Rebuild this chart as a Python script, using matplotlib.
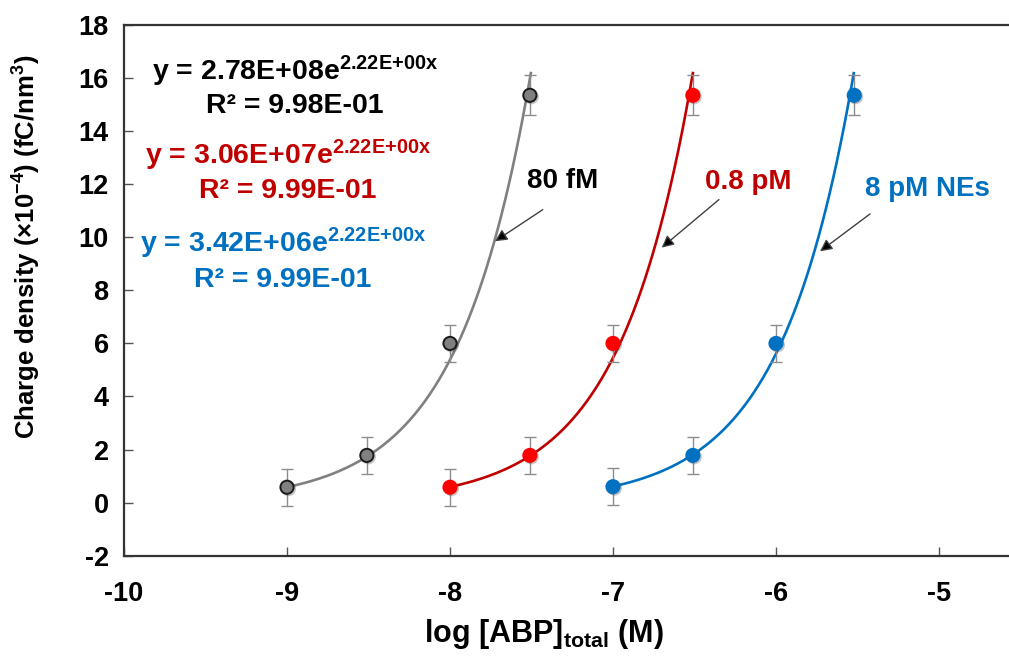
import numpy as np
import matplotlib
matplotlib.use("Agg")
import matplotlib.pyplot as plt
import matplotlib.patheffects as pe

plt.rcParams['font.family'] = ['Liberation Sans', 'DejaVu Sans']
plt.rcParams['font.weight'] = 'bold'
plt.rcParams['axes.unicode_minus'] = False
plt.rcParams['mathtext.fontset'] = 'custom'
plt.rcParams['mathtext.rm'] = 'Liberation Sans'
plt.rcParams['mathtext.bf'] = 'Liberation Sans:bold'
plt.rcParams['mathtext.it'] = 'Liberation Sans:italic'

# ---------------- data ----------------
series_names = ["80 fM", "0.8 pM", "8 pM NEs"]
x_gray = [-9.0, -8.51, -8.0, -7.51]
x_red = [-8.0, -7.51, -7.0, -6.51]
x_blue = [-7.0, -6.51, -6.0, -5.52]
y_gray = [0.58, 1.78, 6.0, 15.35]
y_red = [0.58, 1.78, 6.0, 15.35]
y_blue = [0.6, 1.78, 6.0, 15.35]
err_gray = [0.7, 0.71, 0.7, 0.75]
err_red = [0.7, 0.71, 0.7, 0.75]
err_blue = [0.7, 0.71, 0.7, 0.75]
fit_A = [2.78e8, 3.06e7, 3.42e6]
fit_b = [2.22, 2.22, 2.22]
fit_xmax = [-7.504, -6.51, -5.523]
eq_labels = [r"y = 2.78E+08e$^{\mathrm{2.22E{+}00x}}$",
             r"y = 3.06E+07e$^{\mathrm{2.22E{+}00x}}$",
             r"y = 3.42E+06e$^{\mathrm{2.22E{+}00x}}$"]
r2_labels = ["R² = 9.98E-01", "R² = 9.99E-01", "R² = 9.99E-01"]
xticks = [-10, -9, -8, -7, -6, -5]
yticks = [-2, 0, 2, 4, 6, 8, 10, 12, 14, 16, 18]

line_colors = ["#808080", "#C00000", "#0070C0"]
face_colors = ["#808080", "#FF0000", "#0070C0"]
edge_colors = ["#1a1a1a", "#FF0000", "#0070C0"]
text_colors = ["#000000", "#C00000", "#0070C0"]

fig = plt.figure(figsize=(10.09, 6.58), dpi=100)
ax = fig.add_axes([124/1009, 1-555.7/658, 900/1009, 530.7/658])

xs = [x_gray, x_red, x_blue]
ys = [y_gray, y_red, y_blue]
es = [err_gray, err_red, err_blue]

for i in range(3):
    x = np.array(xs[i]); y = np.array(ys[i])
    xx = np.linspace(x[0], fit_xmax[i], 200)
    ax.plot(xx, fit_A[i] * np.exp(fit_b[i] * xx), color=line_colors[i], lw=1.9, zorder=2)
    ax.errorbar(x, y, yerr=es[i], fmt='none', ecolor='#8c8c8c', elinewidth=1.0,
                capsize=4, capthick=1.0, zorder=3)
    ax.plot(x, y, 'o', ms=9.5, mfc=face_colors[i], mec=edge_colors[i], mew=1.4, zorder=4,
            path_effects=[pe.SimpleLineShadow(offset=(1, -1), alpha=0.35, shadow_color='#555555'),
                          pe.Normal()])

# equations
eq_x = [-8.951, -8.994, -9.025]
eq_y1 = [15.91, 12.74, 9.42]
eq_y2 = [14.70, 11.49, 8.14]
for i in range(3):
    ax.text(eq_x[i], eq_y1[i], eq_labels[i], color=text_colors[i], fontsize=20.5,
            fontweight='bold', ha='center', va='baseline')
    ax.text(eq_x[i], eq_y2[i], r2_labels[i], color=text_colors[i], fontsize=20.5,
            fontweight='bold', ha='center', va='baseline')

# series labels with arrows
lab_xy = [(-7.31, 12.13), (-6.172, 12.08), (-5.074, 11.83)]
tail_xy = [(-7.431, 11.04), (-6.350, 11.42), (-5.423, 10.88)]
tip_xy = [(-7.724, 9.85), (-6.701, 9.61), (-5.730, 9.47)]
for i in range(3):
    ax.text(lab_xy[i][0], lab_xy[i][1], series_names[i], color=text_colors[i],
            fontsize=20, fontweight='bold', ha='center', va='center')
    ax.annotate("", xy=tip_xy[i], xytext=tail_xy[i],
                arrowprops=dict(arrowstyle='-|>', color='#404040', lw=1.0,
                                mutation_scale=18, shrinkA=0, shrinkB=0,
                                fc='black'))

ax.set_xlim(-10, -10 + 900/163)
ax.set_ylim(-2, 18)
ax.set_xticks(xticks)
ax.set_yticks(yticks)
ax.set_xticklabels([str(t) for t in xticks])
ax.set_yticklabels([str(t) for t in yticks])
ax.tick_params(axis='x', direction='in', length=6.5, width=1.0, color='#555555',
               labelsize=19.5, pad=18)
ax.tick_params(axis='y', direction='in', length=6.5, width=1.0, color='#555555',
               labelsize=19.5, pad=11)
for lab in ax.get_xticklabels() + ax.get_yticklabels():
    lab.set_fontweight('bold')

for s in ['left', 'bottom', 'top']:
    ax.spines[s].set_linewidth(1.6)
    ax.spines[s].set_color('#333333')
ax.spines['right'].set_visible(False)

ax.set_xlabel(r"log [ABP]$_{\mathbf{total}}$ (M)", fontsize=22, fontweight='bold')
ax.xaxis.set_label_coords((543.5-124)/900, (555.7-617)/530.7)
ax.set_ylabel(r"Charge density (×10$^{\mathrm{-4}}$) (fC/nm$^{\mathrm{3}}$)", fontsize=18.5,
              fontweight='bold', va='center')
ax.yaxis.set_label_coords((27-124)/900, (555.7-247)/530.7)

fig.savefig("out.png", dpi=100)
